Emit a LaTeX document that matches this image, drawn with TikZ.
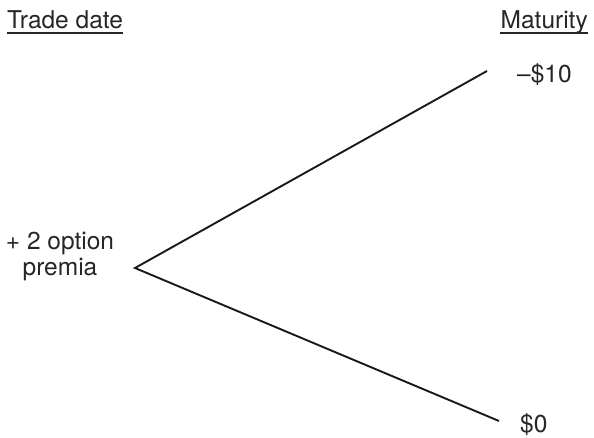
\documentclass[tikz,border=0pt]{standalone}
\usepackage{fontspec}
\setmainfont{TeX Gyre Heros}
\begin{document}
\begin{tikzpicture}[x=1pt,y=-1pt,
  lbl/.style={inner sep=0pt,font=\fontsize{24.5}{26}\selectfont,text=black!85},
  branch/.style={line width=1.9pt,black!90},
  uline/.style={line width=1.3pt,black!85}]
\useasboundingbox (0,0) rectangle (594,438);
\node[lbl,anchor=base west] (td) at (7,29) {Trade date};
\node[lbl,anchor=base east] (mt) at (588,29) {Maturity};
\draw[uline] ([yshift=-4pt]td.base west) -- ([yshift=-4pt]td.base east);
\draw[uline] ([yshift=-4pt]mt.base west) -- ([yshift=-4pt]mt.base east);
\node[lbl,align=center,anchor=center] (pr) at (60,256) {+ 2 option\\premia};
\node[lbl,anchor=base west] (m10) at (517,83) {–\$10};
\node[lbl,anchor=base west] (z0) at (520,432) {\$0};
\coordinate (v) at (135,268);
\coordinate (u) at (487,71);
\coordinate (l) at (499,421);
\draw[branch] (u) -- (v) -- (l);
\end{tikzpicture}
\end{document}
